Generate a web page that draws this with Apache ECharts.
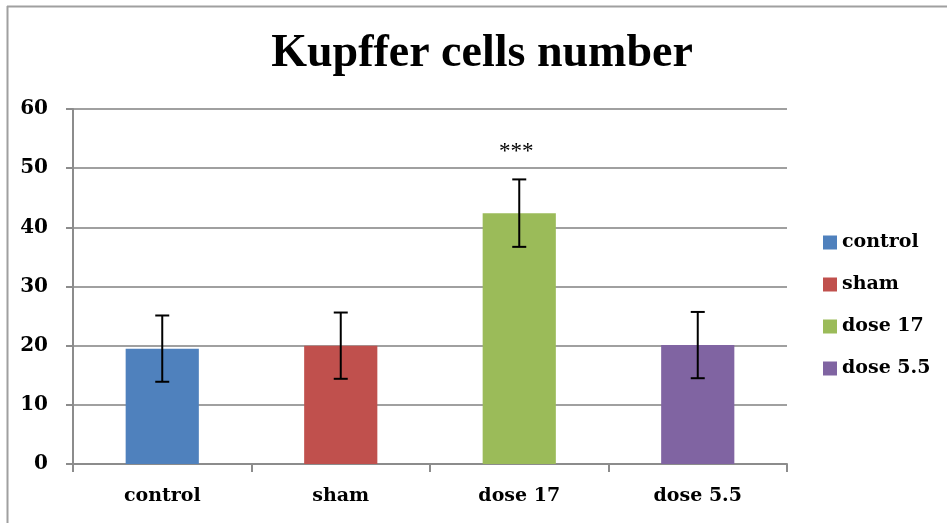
<!DOCTYPE html>
<html>
<head>
<meta charset="utf-8">
<script src="https://cdn.jsdelivr.net/npm/echarts@6/dist/echarts.min.js"></script>
<style>html,body{margin:0;padding:0;background:#fff}#c{width:947px;height:523px}</style>
</head>
<body>
<div id="c"></div>
<script>
const categories = ['control', 'sham', 'dose 17', 'dose 5.5'];
const values = [19.5, 20.0, 42.4, 20.1];
const errors = [5.6, 5.6, 5.7, 5.6];
const annotations = ['', '', '***', ''];
const colors = ['#4F81BD', '#C0504D', '#9BBB59', '#8064A2'];
const yTicks = { min: 0, max: 60, interval: 10 };

const chart = echarts.init(document.getElementById('c'));
const labelFont = { fontFamily: 'DejaVu Serif', fontWeight: 'bold', fontSize: 19, color: '#000' };

const barSeries = categories.map((name, i) => ({
  name: name,
  type: 'bar',
  barWidth: '41%',
  barGap: '-100%',
  itemStyle: { color: colors[i] },
  data: categories.map((c, j) => j === i ? values[j] : '-')
}));

const errSeries = {
  type: 'custom',
  z: 10,
  data: categories.map((c, i) => [i, values[i], errors[i], annotations[i]]),
  renderItem: function (params, api) {
    const i = api.value(0), v = api.value(1), e = api.value(2);
    const top = api.coord([i, v + e]);
    const bot = api.coord([i, v - e]);
    const hw = 7;
    const style = { stroke: '#000', lineWidth: 2 };
    const children = [
      { type: 'line', shape: { x1: top[0], y1: top[1], x2: bot[0], y2: bot[1] }, style },
      { type: 'line', shape: { x1: top[0] - hw, y1: top[1], x2: top[0] + hw, y2: top[1] }, style },
      { type: 'line', shape: { x1: bot[0] - hw, y1: bot[1], x2: bot[0] + hw, y2: bot[1] }, style }
    ];
    const ann = annotations[params.dataIndex];
    if (ann) {
      children.push({
        type: 'text',
        style: { text: ann, x: top[0] - 3, y: top[1] - 27, align: 'center', verticalAlign: 'middle',
          font: '23px "Liberation Serif"', fill: '#000' }
      });
    }
    return { type: 'group', children };
  }
};

chart.setOption({
  animation: false,
  backgroundColor: '#fff',
  title: {
    text: 'Kupffer cells number',
    left: 477, top: 26, textAlign: 'center',
    textStyle: { fontFamily: 'Liberation Serif', fontWeight: 'bold', fontSize: 46, color: '#000' }
  },
  grid: { left: 73, right: 160, top: 109, bottom: 59 },
  legend: {
    orient: 'vertical', left: 818, top: 228,
    itemWidth: 14, itemHeight: 14, itemGap: 23,
    icon: 'rect',
    data: categories,
    textStyle: labelFont
  },
  xAxis: {
    type: 'category',
    data: categories,
    axisLine: { lineStyle: { color: '#8c8c8c', width: 2 } },
    axisTick: { show: true, length: 8, interval: 0, lineStyle: { color: '#8c8c8c', width: 2 } },
    axisLabel: Object.assign({ margin: 23, interval: 0 }, labelFont)
  },
  yAxis: {
    type: 'value',
    min: yTicks.min, max: yTicks.max, interval: yTicks.interval,
    axisLine: { show: true, lineStyle: { color: '#8c8c8c', width: 2 } },
    axisTick: { show: true, length: 7, lineStyle: { color: '#8c8c8c', width: 2 } },
    splitLine: { lineStyle: { color: '#a0a0a0', width: 2 } },
    axisLabel: Object.assign({ margin: 25 }, labelFont, { fontSize: 20 })
  },
  series: barSeries.concat([errSeries]),
  graphic: [
    { type: 'line', shape: { x1: 7, y1: 6.5, x2: 947, y2: 6.5 }, style: { stroke: '#a0a0a0', lineWidth: 2 } },
    { type: 'line', shape: { x1: 7.5, y1: 6, x2: 7.5, y2: 523 }, style: { stroke: '#a0a0a0', lineWidth: 2 } }
  ]
});
</script>
</body>
</html>
